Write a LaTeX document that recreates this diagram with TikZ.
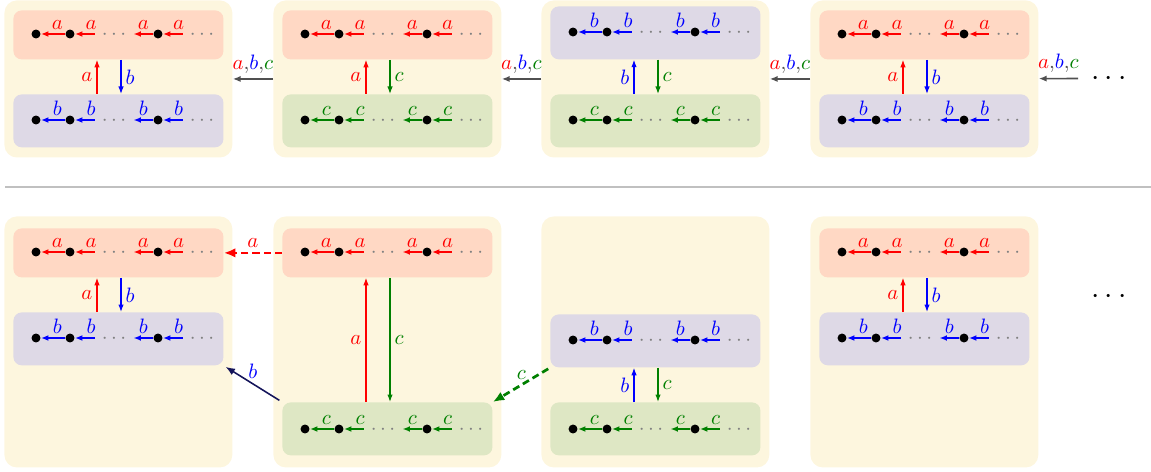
\documentclass[tikz,border=0pt]{standalone}
\usetikzlibrary{arrows.meta}
\definecolor{cream}{RGB}{253,246,222}
\definecolor{rfill}{RGB}{255,216,196}
\definecolor{bfill}{RGB}{222,217,230}
\definecolor{gfill}{RGB}{222,231,196}
\definecolor{dgreen}{RGB}{0,128,0}
\definecolor{navyc}{RGB}{20,20,90}
\definecolor{arrgray}{RGB}{80,80,80}
\definecolor{sepgray}{RGB}{192,192,192}

% #1 prefix, #2 panel left x, #3 row y, #4 colour, #5 letter
\newcommand{\chainrow}[5]{%
  \node[dotn] (#1d1) at (#2+32,#3) {};
  \node[dotn] (#1d2) at (#2+66,#3) {};
  \node[gdots] (#1g1) at (#2+110,#3) {$\cdots$};
  \node[dotn] (#1d3) at (#2+154,#3) {};
  \node[gdots] (#1g2) at (#2+198,#3) {$\cdots$};
  \draw[chainarr,#4] (#1d2) -- node[lbl,pos=0.32]{$#5$} (#1d1);
  \draw[chainarr,#4] (#1g1) -- node[lbl,pos=0.18]{$#5$} (#1d2);
  \draw[chainarr,#4] (#1d3) -- node[lbl,pos=0.5]{$#5$} (#1g1);
  \draw[chainarr,#4] (#1g2) -- node[lbl,pos=0.2]{$#5$} (#1d3);
}
% #1 lower box, #2 upper box, #3 panel left, #4 up colour, #5 up letter, #6 down colour, #7 down letter
\newcommand{\vpair}[7]{%
  \draw[varr,#4] (#3+93,0 |- #1.north) -- node[left,vl]{$#5$} (#3+93,0 |- #2.south);
  \draw[varr,#6] (#3+117,0 |- #2.south) -- node[right,vl]{$#7$} (#3+117,0 |- #1.north);
}
\newcommand{\abclabel}{\textcolor{red}{$a$},\textcolor{blue}{$b$},\textcolor{dgreen}{$c$}}

\begin{document}
\begin{tikzpicture}[x=0.48pt,y=-0.48pt,
  dotn/.style={circle,fill=black,minimum size=4.3pt,inner sep=0pt},
  gdots/.style={text=gray,inner sep=3.3pt,text height=5pt,text depth=0pt},
  chainarr/.style={line width=0.75pt,-{Latex[length=3.6pt,width=2.8pt]}},
  lbl/.style={above,inner sep=1.6pt},
  varr/.style={line width=0.5pt,-{Latex[length=3.6pt,width=2.6pt]}},
  vl/.style={inner sep=2pt},
  panelt/.style={fill=cream,rounded corners=6pt,anchor=north west,inner sep=0pt,minimum width=109.4pt,minimum height=75.4pt},
  panelb/.style={fill=cream,rounded corners=6pt,anchor=north west,inner sep=0pt,minimum width=109.4pt,minimum height=120.5pt},
  boxr/.style={fill=rfill,rounded corners=4pt,anchor=north west,inner sep=0pt,minimum width=100.8pt,minimum height=23.5pt},
  boxb/.style={fill=bfill,rounded corners=4pt,anchor=north west,inner sep=0pt,minimum width=100.8pt,minimum height=25.4pt},
  boxg/.style={fill=gfill,rounded corners=4pt,anchor=north west,inner sep=0pt,minimum width=100.8pt,minimum height=25.4pt},
  interarr/.style={arrgray,line width=0.75pt,-{Latex[length=3.8pt,width=3pt]}},
  abc/.style={above,inner sep=2.4pt},
  bigdots/.style={font=\fontsize{13.5}{16}\selectfont,text height=6.8pt,text depth=0pt},
  dashcon/.style={line width=1.3pt,dash pattern=on 3.4pt off 2pt,-{Latex[length=5.5pt,width=4.5pt]}},
]
\useasboundingbox (0,0) rectangle (1151,472);

% ---------------- top row ----------------
\node[panelt] (tp1) at (4,0) {};
\node[panelt] (tp2) at (273,0) {};
\node[panelt] (tp3) at (541,0) {};
\node[panelt] (tp4) at (810,0) {};

% panel 1
\node[boxr] (t1u) at (13,10) {};
\node[boxb] (t1l) at (13,94) {};
\chainrow{t1ur}{4}{34}{red}{a}
\chainrow{t1lr}{4}{120}{blue}{b}
\vpair{t1l}{t1u}{4}{red}{a}{blue}{b}

% panel 2
\node[boxr] (t2u) at (282,10) {};
\node[boxg] (t2l) at (282,94) {};
\chainrow{t2ur}{273}{34}{red}{a}
\chainrow{t2lr}{273}{120}{dgreen}{c}
\vpair{t2l}{t2u}{273}{red}{a}{dgreen}{c}

% panel 3
\node[boxb] (t3u) at (550,6) {};
\node[boxg] (t3l) at (550,94) {};
\chainrow{t3ur}{541}{32}{blue}{b}
\chainrow{t3lr}{541}{120}{dgreen}{c}
\vpair{t3l}{t3u}{541}{blue}{b}{dgreen}{c}

% panel 4
\node[boxr] (t4u) at (819,10) {};
\node[boxb] (t4l) at (819,94) {};
\chainrow{t4ur}{810}{34}{red}{a}
\chainrow{t4lr}{810}{120}{blue}{b}
\vpair{t4l}{t4u}{810}{red}{a}{blue}{b}

\draw[interarr] (tp2) -- node[abc]{\abclabel} (tp1);
\draw[interarr] (tp3) -- node[abc]{\abclabel} (tp2);
\draw[interarr] (tp4) -- node[abc]{\abclabel} (tp3);
\coordinate (tmore) at (1078,78.5);
\draw[interarr] (tmore) -- node[abc]{\abclabel} (tp4);
\node[bigdots] (tdots) at (1109,78) {$\cdots$};

% separator
\draw[sepgray,line width=1pt] (5,187) -- (1151,187);

% ---------------- bottom row ----------------
\node[panelb] (bp1) at (4,216) {};
\node[panelb] (bp2) at (273,216) {};
\node[panelb] (bp3) at (541,216) {};
\node[panelb] (bp4) at (810,216) {};

% panel 1
\node[boxr] (b1u) at (13,228) {};
\node[boxb] (b1l) at (13,312) {};
\chainrow{b1ur}{4}{252}{red}{a}
\chainrow{b1lr}{4}{338}{blue}{b}
\vpair{b1l}{b1u}{4}{red}{a}{blue}{b}

% panel 2
\node[boxr] (b2u) at (282,228) {};
\node[boxg] (b2l) at (282,402) {};
\chainrow{b2ur}{273}{252}{red}{a}
\chainrow{b2lr}{273}{429}{dgreen}{c}
\vpair{b2l}{b2u}{273}{red}{a}{dgreen}{c}

% panel 3
\node[boxb] (b3u) at (550,314) {};
\node[boxg] (b3l) at (550,402) {};
\chainrow{b3ur}{541}{340}{blue}{b}
\chainrow{b3lr}{541}{429}{dgreen}{c}
\vpair{b3l}{b3u}{541}{blue}{b}{dgreen}{c}

% panel 4
\node[boxr] (b4u) at (819,228) {};
\node[boxb] (b4l) at (819,312) {};
\chainrow{b4ur}{810}{252}{red}{a}
\chainrow{b4lr}{810}{338}{blue}{b}
\vpair{b4l}{b4u}{810}{red}{a}{blue}{b}

\node[bigdots] (bdots) at (1109,296) {$\cdots$};

% cross connectors
\draw[dashcon,red] (b2u.west) -- node[above,inner sep=2pt]{$a$} (b1u.east);
\draw[navyc,line width=0.75pt,-{Latex[length=4.5pt,width=3.5pt]},shorten <=1.5pt,shorten >=1pt]
  (b2l.north west) -- node[above,text=blue,inner sep=2pt]{$b$} (b1l.south east);
\draw[dashcon,dgreen,shorten <=1pt] (b3u.south west) -- node[above,inner sep=2pt]{$c$} (b2l.north east);
\end{tikzpicture}
\end{document}
